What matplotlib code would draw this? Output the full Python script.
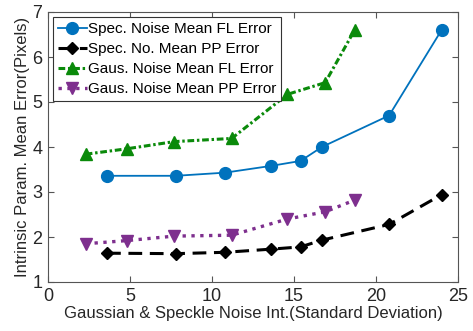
import matplotlib
matplotlib.use('Agg')
import matplotlib.pyplot as plt

plt.rcParams['font.family'] = ['Liberation Sans', 'DejaVu Sans']

# noise intensities (standard deviation)
x_spec = [3.6, 7.8, 10.8, 13.6, 15.4, 16.7, 20.8, 24.0]
x_gaus = [2.3, 4.8, 7.7, 11.2, 14.6, 16.9, 18.7]

spec_fl = [3.36, 3.36, 3.43, 3.58, 3.69, 4.00, 4.70, 6.60]
spec_pp = [1.64, 1.63, 1.66, 1.73, 1.78, 1.93, 2.28, 2.94]
gaus_fl = [3.84, 3.96, 4.12, 4.19, 5.17, 5.43, 6.60]
gaus_pp = [1.85, 1.92, 2.02, 2.04, 2.40, 2.56, 2.82]

labels = ['Spec. Noise Mean FL Error', 'Spec. No. Mean PP Error',
          'Gaus. Noise Mean FL Error', 'Gaus. Noise Mean PP Error']

fig = plt.figure(figsize=(4.73, 3.31), dpi=100)
ax = fig.add_axes([48 / 473, 1 - 282 / 331, 410 / 473, 270 / 331])

ax.plot(x_spec, spec_fl, '-o', color='#0072BD', lw=1.3, ms=8.5, label=labels[0])
ax.plot(x_spec, spec_pp, '--D', color='black', lw=2.2, ms=6.5, dashes=(4.5, 2.5), label=labels[1])
ax.plot(x_gaus, gaus_fl, '-.^', color='#0A8A0A', lw=2.2, ms=8.5, dashes=(2.2, 0.9, 0.8, 0.9),
        label=labels[2])
ax.plot(x_gaus, gaus_pp, ':v', color='#7E2F8E', lw=2.4, ms=8.5, label=labels[3])

ax.set_xlim(0, 25)
ax.set_ylim(1, 7)
ax.set_xticks([0, 5, 10, 15, 20, 25])
ax.set_yticks([1, 2, 3, 4, 5, 6, 7])
ax.tick_params(direction='in', top=True, right=True, labelsize=13, length=4,
               color='#555555', labelcolor='#262626', pad=4)
for s in ax.spines.values():
    s.set_color('#555555')
    s.set_linewidth(0.8)

ax.set_xlabel('Gaussian & Speckle Noise Int.(Standard Deviation)', fontsize=12, labelpad=1,
              color='#262626')
ax.set_ylabel('Intrinsic Param. Mean Error(Pixels)', fontsize=12, labelpad=2, color='#262626')

leg = ax.legend(loc='upper left', fontsize=11, frameon=True, fancybox=False,
                handlelength=1.9, handletextpad=0.1, borderpad=0.3, labelspacing=0.4,
                borderaxespad=0.35)
leg.get_frame().set_edgecolor('#333333')
leg.get_frame().set_linewidth(0.8)
leg.get_frame().set_alpha(1)

fig.savefig('out.png', dpi=100)
